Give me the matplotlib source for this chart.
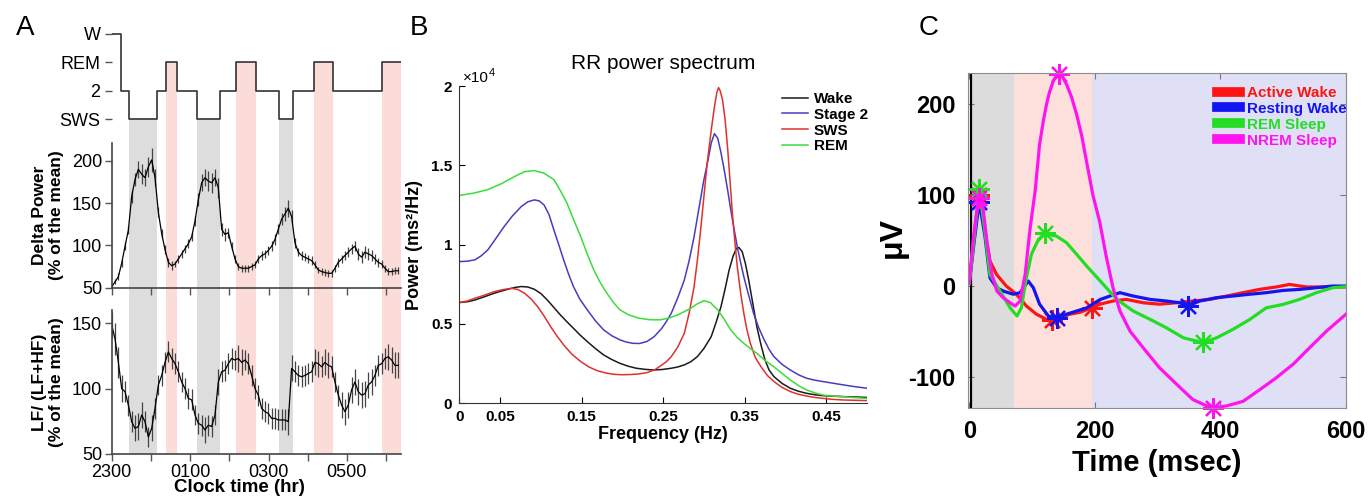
import numpy as np
import matplotlib
matplotlib.use('Agg')
import matplotlib.pyplot as plt
from matplotlib.lines import Line2D

plt.rcParams['font.family'] = ['Liberation Sans', 'DejaVu Sans']
plt.rcParams['axes.unicode_minus'] = False

W, H = 1369, 496

## panel A : hypnogram + delta power + LF/(LF+HF), hours after 23:00
hyp_edges = [0, 0.23, 0.45, 1.15, 1.385, 1.67, 2.18, 2.76, 3.17, 3.68,
             4.26, 4.62, 5.16, 5.64, 6.89, 7.38]
hyp_stage = ['W', '2', 'SWS', '2', 'REM', '2', 'SWS', '2', 'REM', '2',
             'SWS', '2', 'REM', '2', 'REM']
stage_names = ['SWS', '2', 'REM', 'W']
bin_min = 5.1
delta = [51, 57, 63, 79, 99, 118, 158, 178, 190, 184, 180, 193, 201, 180,
         139, 114, 95, 80, 76, 78, 84, 90, 96, 102, 110, 129, 154, 174, 180,
         176, 174, 180, 168, 119, 113, 115, 99, 84, 75, 73, 73, 73, 75, 77,
         84, 88, 90, 94, 99, 107, 119, 131, 137, 144, 134, 103, 92, 88, 86,
         84, 82, 77, 71, 69, 68, 67, 67, 73, 80, 84, 88, 92, 96, 99, 90, 86,
         92, 90, 88, 84, 80, 78, 73, 69, 69, 70, 70]
delta_err = [3, 3, 4, 4, 5, 5,
             8, 8, 10, 12, 10, 12, 14, 10,
             6, 5, 5, 5, 5, 4, 5, 5, 5, 5,
             5, 6, 8, 10, 10, 12, 12, 10, 12, 8,
             8, 6, 5, 5, 4, 4, 4, 4, 4, 4,
             5, 5, 5, 5, 6, 6, 6, 7, 8, 10,
             8, 6, 5, 5, 5, 5, 5, 4, 4, 4,
             4, 4, 4, 4, 5, 5, 5, 6, 6, 6,
             7, 7, 7, 7, 6, 6, 5, 5, 4, 4, 4, 4, 4]
lfhf = [148.5, 138, 120, 100, 97.6, 87.4, 74.7, 69.6, 71, 79.8, 74.7, 63,
        69.6, 84.9, 102.7, 110, 120, 128, 123, 119, 112.8, 105, 100, 92.5,
        91.3, 79.8, 73.4, 72, 68.3, 72, 71, 79.8, 105, 112.8, 114, 119, 123,
        121.8, 123, 120, 121.8, 119, 110, 100, 95, 84.9, 82.3, 81, 77.2,
        77.2, 76, 76, 76, 74.7, 115.4, 112.8, 110, 109, 110, 111.5, 112.8,
        120, 119, 116.6, 120, 117.7, 116.6, 105, 95, 87.4, 82.3, 87.4, 99,
        105, 97.6, 95, 96, 102.7, 105, 110, 117.7, 119, 123, 124.3, 121.8,
        117.7, 117.7]
lfhf_err = [10, 12, 12, 10, 8, 8,
            8, 10, 10, 10, 8, 8, 10, 8,
            8, 8, 8, 8, 8, 8, 8, 8, 8, 8,
            8, 8, 8, 8, 10, 8, 8, 8, 10, 8,
            8, 8, 8, 8, 10, 10, 8, 8, 8, 8,
            8, 8, 8, 8, 8, 8, 8, 8, 8, 10,
            10, 8, 8, 8, 8, 8, 8, 10, 10, 8,
            10, 10, 8, 8, 8, 10, 10, 10, 10, 10,
            10, 10, 10, 10, 10, 8, 8, 8, 8, 10, 10, 10, 10]
clock_labels = ['2300', '', '0100', '', '0300', '', '0500', '']

## panel B : RR power spectrum (x 10^4 ms^2/Hz)
wake_f = [0, .01, .019, .03, .043, .052, .06, .068, .076, .084, .092, .1,
          .108, .116, .124, .132, .14, .148, .157, .167, .177, .187, .197,
          .207, .217, .228, .238, .249, .26, .268, .276, .284, .292, .3, .309,
          .315, .321, .326, .331, .336, .34, .343, .347, .351, .355, .36, .365,
          .37, .375, .38, .386, .396, .406, .416, .426, .436, .446, .458, .471,
          .485, .5]
wake_p = [.635, .64, .651, .67, .694, .708, .719, .73, .736, .733, .719, .692,
          .651, .604, .557, .514, .473, .431, .389, .345, .305, .276, .252,
          .234, .221, .214, .21, .213, .221, .229, .242, .262, .294, .345, .42,
          .51, .609, .72, .84, .93, .977, .982, .956, .88, .777, .63, .483,
          .37, .273, .21, .168, .125, .095, .076, .063, .054, .048, .045, .042,
          .04, .037]
st2_f = [0, .01, .019, .027, .035, .045, .055, .065, .076, .084, .092, .098,
         .104, .11, .116, .122, .128, .134, .14, .148, .157, .167, .177, .187,
         .197, .205, .213, .221, .23, .239, .248, .254, .26, .268, .276, .282,
         .288, .294, .3, .305, .309, .313, .317, .321, .325, .329, .333, .337,
         .341, .345, .349, .355, .361, .367, .374, .38, .386, .396, .406, .416,
         .426, .436, .446, .458, .471, .485, .5]
st2_p = [.893, .896, .904, .93, .967, 1.04, 1.114, 1.18, 1.24, 1.27, 1.282,
         1.276, 1.25, 1.19, 1.093, 1.0, .904, .815, .736, .655, .589, .52,
         .463, .426, .4, .386, .378, .377, .389, .42, .47, .515, .567, .665,
         .777, .9, 1.05, 1.23, 1.408, 1.53, 1.64, 1.70, 1.67, 1.58, 1.47, 1.35,
         1.22, 1.1, .987, .89, .798, .68, .567, .48, .4, .34, .294, .245, .21,
         .18, .158, .146, .137, .127, .116, .105, .095]
sws_f = [0, .01, .019, .03, .043, .054, .064, .072, .08, .088, .096, .104,
         .112, .12, .128, .138, .149, .159, .169, .179, .189, .199, .209, .22,
         .23, .24, .248, .254, .26, .268, .276, .282, .288, .292, .296, .3,
         .304, .309, .313, .316, .318, .32, .323, .326, .329, .332, .335, .338,
         .341, .345, .349, .353, .357, .363, .37, .378, .386, .396, .406, .416,
         .426, .436, .446, .458, .471, .485, .5]
sws_p = [.635, .645, .662, .68, .704, .717, .725, .717, .694, .658, .61, .55,
         .483, .423, .368, .31, .263, .229, .206, .192, .183, .18, .181, .185,
         .193, .212, .24, .262, .294, .355, .441, .57, .735, .9, 1.09, 1.3,
         1.51, 1.72, 1.87, 1.96, 1.99, 1.97, 1.91, 1.79, 1.618, 1.41, 1.197,
         1.02, .861, .7, .567, .46, .378, .29, .231, .175, .137, .1, .074, .057,
         .046, .037, .031, .025, .021, .019, .017]
rem_f = [0, .018, .035, .052, .068, .08, .092, .104, .116, .124, .132, .14,
         .149, .157, .165, .173, .181, .189, .197, .208, .22, .233, .246, .257,
         .268, .276, .284, .292, .3, .308, .317, .325, .333, .341, .349, .357,
         .365, .375, .386, .396, .406, .416, .426, .436, .446, .458, .471, .485,
         .5]
rem_p = [1.31, 1.325, 1.347, 1.385, 1.43, 1.46, 1.467, 1.45, 1.41, 1.34,
         1.263, 1.16, 1.05, .94, .84, .76, .694, .636, .589, .557, .537, .527,
         .526, .537, .557, .578, .6, .627, .647, .635, .589, .53, .462, .415,
         .378, .345, .315, .27, .23, .188, .147, .112, .084, .066, .052, .046,
         .042, .036, .031]

## panel C : evoked potentials (msec, uV)
aw_t = [0, 8, 16, 25, 33, 43.5, 59, 75, 91, 107, 123, 131, 144, 160, 176,
        195, 208, 229, 250, 277, 303, 330, 356, 383, 410, 436, 462, 489, 510,
        537, 569, 600]
aw_v = [3, 55, 100, 60, 27.5, 12.8, 0, -9, -22, -31, -36.7, -37, -35, -31,
        -29, -24, -20, -16.5, -14.7, -18.4, -20, -18.4, -16.5, -14.7, -11,
        -7.3, -3.7, -1, 1.8, -1, -1, -1]
rw_t = [0, 8, 16, 25, 33, 43.5, 54, 70, 81, 94, 102, 112, 126, 140, 155, 171,
        187, 208, 224, 240, 261, 288, 314, 335, 348, 367, 394, 420, 447, 473,
        500, 526, 553, 579, 600]
rw_v = [3, 50, 93, 55, 9, -1.8, -5.5, -9, -7.3, 5.5, -1.8, -20, -33, -35, -31,
        -27.5, -24, -15, -11, -7.3, -11, -14.7, -16.5, -18.4, -22, -16.5,
        -12.8, -11, -9, -7.3, -4.8, -3.7, -1.8, 0, 0]
rs_t = [0, 8, 16, 25, 33, 49, 65, 76, 83, 91, 99, 110, 120, 139, 155, 171,
        187, 208, 235, 261, 288, 314, 341, 362, 372, 394, 420, 447, 473, 500,
        526, 553, 579, 600]
rs_v = [3, 55, 107, 60, 12.8, -5.5, -24, -33, -24, 9, 35, 51, 57.6, 55, 47.7,
        35, 22, 6, -14.7, -27.5, -36.7, -46, -57, -60.6, -62.4, -57, -47.7,
        -36.7, -24, -20.2, -14.7, -7.3, -1.8, -0.7]
ns_t = [0, 6, 14, 18, 22, 28, 36, 44, 54, 65, 73, 81, 89, 97, 105, 112, 118,
        123, 128, 134, 139, 143, 149, 155, 163, 171, 179, 186, 197, 208, 218,
        229, 240, 256, 277, 303, 330, 356, 378, 388, 410, 436, 463, 489, 516,
        542, 569, 600]
ns_v = [3, 50, 94, 99, 86, 50, 13, -5.5, -12.8, -18.4, -22, -16.5, 12.8, 64,
        105, 156, 182, 200, 214, 226, 232, 234, 230, 222, 208, 189, 166, 140,
        100, 70, 33, -2, -27.5, -49.6, -68, -90, -108, -125, -132, -134, -132,
        -127, -114, -101, -86, -68, -49.6, -31]
aw_star_t, aw_star_v = [16, 131, 195], [100, -37, -24]
rw_star_t, rw_star_v = [16, 140, 348], [93, -35, -22]
rs_star_t, rs_star_v = [16, 120, 372], [107, 58, -62]
ns_star_t, ns_star_v = [16, 143, 388], [97, 234, -134]
c_bands = [3, 71, 196, 600]


fig = plt.figure(figsize=(W / 100, H / 100), dpi=100)


def box(x0, y0, x1, y1):
    return fig.add_axes([x0 / W, 1 - y1 / H, (x1 - x0) / W, (y1 - y0) / H])


# ---------------- A
t_a = np.arange(len(delta)) * bin_min / 60.0
xmax_a = 7.38

ax_bg = box(111.7, 30, 401, 454)
ax_bg.set_xlim(0, xmax_a)
ax_bg.set_ylim(0, 1)
ax_bg.axis('off')

ax_h = box(111.7, 30, 401, 123)
ax_h.patch.set_alpha(0)
levels = [stage_names.index(s) for s in hyp_stage]
ax_h.step(hyp_edges, levels + [levels[-1]], where='post', color='#333333', lw=1.2)
ax_h.set_xlim(0, xmax_a)
ax_h.set_ylim(-0.141, 3.141)
ax_h.set_yticks(range(4))
ax_h.set_yticklabels(stage_names, fontsize=13)
ax_h.set_xticks([])
for s in ax_h.spines.values():
    s.set_visible(False)
ax_h.tick_params(axis='y', length=5, width=1, color='#555555', pad=3)

for i, s in enumerate(hyp_stage):
    if s not in ('SWS', 'REM'):
        continue
    disp = ax_h.transData.transform((0, stage_names.index(s)))
    top = ax_bg.transAxes.inverted().transform(disp)[1]
    col = '#dddddd' if s == 'SWS' else '#fbdcd8'
    ax_bg.axvspan(hyp_edges[i], hyp_edges[i + 1], ymin=0, ymax=top, color=col, lw=0)

ax_d = box(111.7, 143, 401, 287.7)
ax_d.patch.set_alpha(0)
ax_d.errorbar(t_a, delta, yerr=delta_err, fmt='-', color='black', lw=0.9,
              ecolor='#444444', elinewidth=0.9, capsize=0)
ax_d.set_xlim(0, xmax_a)
ax_d.set_ylim(50, 221)
ax_d.set_yticks([50, 100, 150, 200])
ax_d.set_xticks(range(8))
ax_d.set_xticklabels([])

ax_l = box(111.7, 310, 401, 454)
ax_l.patch.set_alpha(0)
ax_l.errorbar(t_a, lfhf, yerr=lfhf_err, fmt='-', color='black', lw=0.9,
              ecolor='#444444', elinewidth=0.9, capsize=0)
ax_l.set_xlim(0, xmax_a)
ax_l.set_ylim(50, 160)
ax_l.set_yticks([50, 100, 150])
ax_l.set_xticks(range(8))
ax_l.set_xticklabels(clock_labels)

for ax in (ax_d, ax_l):
    ax.spines['top'].set_visible(False)
    ax.spines['right'].set_visible(False)
    for s in ('left', 'bottom'):
        ax.spines[s].set_color('#444444')
        ax.spines[s].set_linewidth(1.2)
    ax.tick_params(labelsize=13, length=5, width=1, color='#555555', pad=2)

fig.text(48 / W, 1 - 215 / H, 'Delta Power\n(% of the mean)', rotation=90,
         ha='center', va='center', fontsize=12.5, fontweight='bold', linespacing=1.1)
fig.text(48 / W, 1 - 382 / H, 'LF/ (LF+HF)\n(% of the mean)', rotation=90,
         ha='center', va='center', fontsize=12.5, fontweight='bold', linespacing=1.1)
fig.text(239 / W, 1 - 487 / H, 'Clock time (hr)', ha='center', va='center',
         fontsize=13.5, fontweight='bold')

# ---------------- B
ax_b = box(459.3, 86, 866.9, 403.3)
ax_b.plot(wake_f, wake_p, color='#1a1a1a', lw=1.1, label='Wake')
ax_b.plot(st2_f, st2_p, color='#4a3bbf', lw=1.1, label='Stage 2')
ax_b.plot(sws_f, sws_p, color='#e0312c', lw=1.1, label='SWS')
ax_b.plot(rem_f, rem_p, color='#3bdc3b', lw=1.1, label='REM')
ax_b.set_xlim(0, 0.5)
ax_b.set_ylim(0, 2)
ax_b.set_xticks([0, .05, .15, .25, .35, .45])
ax_b.set_xticklabels(['0', '0.05', '0.15', '0.25', '0.35', '0.45'])
ax_b.set_yticks([0, .5, 1, 1.5, 2])
ax_b.set_yticklabels(['0', '0.5', '1', '1.5', '2'])
ax_b.spines['top'].set_visible(False)
ax_b.spines['right'].set_visible(False)
for s in ('left', 'bottom'):
    ax_b.spines[s].set_color('#333333')
ax_b.tick_params(direction='in', length=4, labelsize=11, pad=5)
for lab in ax_b.get_xticklabels() + ax_b.get_yticklabels():
    lab.set_fontweight('bold')
ax_b.set_title('RR power spectrum', fontsize=15, pad=12)
ax_b.set_xlabel('Frequency (Hz)', fontsize=13, fontweight='bold', labelpad=1)
ax_b.set_ylabel('Power (ms²/Hz)', fontsize=13, fontweight='bold', labelpad=6)
fig.text(463 / W, 1 - 78 / H, '×10', fontsize=11, va='center', ha='left')
fig.text(489 / W, 1 - 73 / H, '4', fontsize=8, va='center', ha='left')
ax_b.legend(loc='upper left', bbox_to_anchor=(782 / W, 1 - 92 / H),
            bbox_transform=fig.transFigure, frameon=False, borderaxespad=0,
            borderpad=0, handlelength=1.7, handletextpad=0.4, labelspacing=0.12,
            prop={'weight': 'bold', 'size': 11})

# ---------------- C
ax_c = box(968, 72.7, 1346, 407.7)
band_cols = ['#dcdcdc', '#fde0dc', '#dfe0f5']
for i in range(3):
    ax_c.axvspan(c_bands[i], c_bands[i + 1], color=band_cols[i], lw=0)
ax_c.axvline(c_bands[0], color='black', lw=1.6)
series = [(aw_t, aw_v, aw_star_t, aw_star_v, '#ff1414', 'Active Wake'),
          (rw_t, rw_v, rw_star_t, rw_star_v, '#1414f0', 'Resting Wake'),
          (rs_t, rs_v, rs_star_t, rs_star_v, '#22dd22', 'REM Sleep'),
          (ns_t, ns_v, ns_star_t, ns_star_v, '#ff14f0', 'NREM Sleep')]
handles = []
for t, v, st, sv, col, lab in series:
    ax_c.plot(t, v, color=col, lw=2.3)
    ax_c.plot(st, sv, ls='none', marker=(8, 2, 0), ms=15, mew=1.6, color=col,
              clip_on=False)
    handles.append(Line2D([0], [0], color=col, lw=7, label=lab))
ax_c.set_xlim(-2, 600)
ax_c.set_ylim(-134, 235)
ax_c.set_xticks([0, 200, 400, 600])
ax_c.set_yticks([-100, 0, 100, 200])
for s in ax_c.spines.values():
    s.set_color('#8c8c8c')
ax_c.tick_params(direction='in', top=True, right=True, length=4,
                 color='#777777', labelsize=17, pad=9)
for lab in ax_c.get_xticklabels() + ax_c.get_yticklabels():
    lab.set_fontweight('bold')
ax_c.set_xlabel('Time (msec)', fontsize=21, fontweight='bold', labelpad=4)
fig.text(893 / W, 1 - 237 / H, 'μV', rotation=90, ha='center', va='center',
         fontsize=23, fontweight='bold')
ax_c.legend(handles=handles, loc='upper left', bbox_to_anchor=(1217 / W, 1 - 86 / H),
            bbox_transform=fig.transFigure, frameon=False, borderaxespad=0,
            borderpad=0, handlelength=1.5, handletextpad=0.45, labelspacing=0.12,
            labelcolor='linecolor', prop={'weight': 'bold', 'size': 11})

# panel letters
fig.text(25 / W, 1 - 28 / H, 'A', fontsize=20, ha='center', va='center')
fig.text(419 / W, 1 - 28 / H, 'B', fontsize=20, ha='center', va='center')
fig.text(929 / W, 1 - 28 / H, 'C', fontsize=20, ha='center', va='center')

fig.savefig('out.png', dpi=100)
